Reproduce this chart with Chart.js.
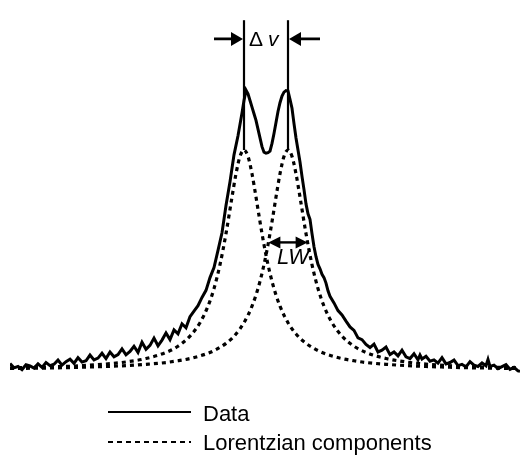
<!DOCTYPE html>
<html>
<head>
<meta charset="utf-8">
<script src="https://cdn.jsdelivr.net/npm/chart.js@4.4.1/dist/chart.umd.min.js"></script>
<style>
  html, body { margin: 0; padding: 0; background: #fff; }
  #wrap { position: relative; width: 525px; height: 460px; font-family: "Liberation Sans", Arial, sans-serif; }
  #wrap canvas { position: absolute; left: 0; top: 0; }
  .swatch { position: absolute; left: 108px; width: 83px; height: 2px; }
  .swatch.solid { background: #000; }
  .swatch.dotted { background: repeating-linear-gradient(90deg, #000 0 5px, transparent 5px 9px); }
  .label { position: absolute; left: 203px; font-size: 22px; line-height: 22px; color: #000; white-space: nowrap; }
</style>
</head>
<body>
<div id="wrap">
  <canvas id="spectrum"></canvas>
</div>
<script>
// frequency offset (arb. units), measured trace
const dataX = [
  -128,-126,-124,-122,-120,-118,-116,-114,-112,-110,-108,-106,-104,-102,-100,-98,-96,-94,-92,-90,-88,-86,-84,-82,-80,-78,-76,-74,-72,-70,-68,-66,-64,-62,-60,-58,-56,-54,-52,-50,-48,-46,-44,-42,-40,
  -38,-36,-34,-32,-30,-28,-26,-24,-22,-20,-18,-16,-14,-12,
  -11,-10,-9,-8,-7,-6,-5,-4,-3,-2,-1,0,1,2,3,4,5,6,7,8,9,10,11,12,13,14,15,16,
  17,18,19,20,21,22,23,24,25,26,27,28,29,30,31,32,
  34,36,38,40,42,44,46,48,50,52,54,56,58,60,62,64,66,68,70,72,74,76,
  77,78,
  80,82,84,86,88,90,92,94,96,98,100,102,104,106,108,110,
  111,112,
  114,116,118,120,122,124,126,
  127
];
const dataY = [
  3.0,1.0,1.6,0.2,2.4,1.9,0.9,2.8,1.2,3.4,2.0,2.6,4.5,2.2,3.8,4.9,3.0,5.6,3.6,4.2,6.8,4.6,5.4,7.6,5.2,8.2,6.0,7.0,9.6,6.9,8.4,10.8,8.0,12.6,9.4,11.2,14.5,11.0,13.6,16.8,13.8,18.2,16.4,21.0,19.2,
  24.2,26.8,29.2,33.0,36.2,42.0,46.6,54.4,62.4,74.8,85.6,97.8,106.5,116.8,
  122.5,127.2,125.5,122.5,119.5,116.5,113.5,109.5,105.5,101.5,99.0,98.6,98.8,99.5,103.0,107.5,112.5,117.5,121.5,124.5,126.3,127.0,126.8,123.0,119.0,112.0,105.5,100.0,
  94.5,88.0,82.0,75.5,71.0,68.5,62.0,56.0,51.5,48.0,46.0,43.5,42.0,39.5,36.0,33.5,
  30.5,27.0,25.0,22.2,19.6,18.0,14.6,13.8,11.6,10.2,11.8,8.2,9.0,10.4,7.0,8.2,6.4,9.0,6.0,5.2,7.4,4.6,
  6.8,5.0,
  6.2,4.0,4.6,3.1,5.6,2.8,3.4,4.5,2.0,2.6,1.4,3.8,2.2,1.6,3.2,1.9,
  4.8,1.6,
  2.2,0.6,1.5,2.4,0.3,1.2,-0.4,
  -0.6
];

// fitted Lorentzian components
const lorentzX = [-128,-115,-100,-90,-80,-70,-60,-50,-44,-38,-33,-29,-26,-23,-20,-17,-15,-13,-11,-9,-7,-5,-3,-1,
                  1,3,5,7,9,11,13,15,17,20,23,26,29,33,38,44,50,60,70,80,90,100,115,128];
const lorentzLeft = [0.96,1.21,1.64,2.07,2.70,3.66,5.22,8.0,10.8,15.4,21.5,29.0,37.0,47.9,62.0,78.6,89.2,97.1,100,97.1,89.2,78.6,67.4,56.9,
                     47.9,40.3,34.1,29.0,24.9,21.5,18.7,16.4,14.4,12.1,10.3,8.8,7.6,6.4,5.2,4.2,3.4,2.6,2.0,1.6,1.3,1.06,0.83,0.68];
const lorentzRight = [0.68,0.83,1.06,1.3,1.6,2.0,2.6,3.4,4.2,5.2,6.4,7.6,8.8,10.3,12.1,14.4,16.4,18.7,21.5,24.9,29.0,34.1,40.3,47.9,
                      56.9,67.4,78.6,89.2,97.1,100,97.1,89.2,78.6,62.0,47.9,37.0,29.0,21.5,15.4,10.8,8.0,5.22,3.66,2.70,2.07,1.64,1.21,0.96];

// annotation values
const peakCentres = [-11, 11];
const lorentzPeak = 100;
const markerTop = 159;
const splitLevel = 150.5;
const lwLevel = 58;
const lwFrom = 1.2, lwTo = 20.8;

const legendLabels = ['Data', 'Lorentzian components'];

function toPoints(xs, ys) {
  return xs.map((x, i) => ({ x: x, y: ys[i] }));
}

function arrowHead(ctx, tipX, tipY, dir, len, half) {
  ctx.beginPath();
  ctx.moveTo(tipX, tipY);
  ctx.lineTo(tipX - dir * len, tipY - half);
  ctx.lineTo(tipX - dir * len, tipY + half);
  ctx.closePath();
  ctx.fill();
}

const annotations = {
  id: 'annotations',
  afterDatasetsDraw(chart) {
    const ctx = chart.ctx;
    const xs = chart.scales.x, ys = chart.scales.y;
    ctx.save();
    ctx.strokeStyle = '#000';
    ctx.fillStyle = '#000';
    ctx.lineWidth = 2.2;

    // vertical markers at the component centres
    const top = ys.getPixelForValue(markerTop);
    const bottom = ys.getPixelForValue(lorentzPeak);
    peakCentres.forEach(c => {
      const px = Math.round(xs.getPixelForValue(c));
      ctx.beginPath();
      ctx.moveTo(px, top);
      ctx.lineTo(px, bottom);
      ctx.stroke();
    });

    // splitting arrows
    ctx.lineWidth = 2.6;
    const ay = ys.getPixelForValue(splitLevel);
    const lx = Math.round(xs.getPixelForValue(peakCentres[0]));
    const rx = Math.round(xs.getPixelForValue(peakCentres[1]));
    ctx.beginPath();
    ctx.moveTo(lx - 30, ay);
    ctx.lineTo(lx - 8, ay);
    ctx.moveTo(rx + 32, ay);
    ctx.lineTo(rx + 8, ay);
    ctx.stroke();
    arrowHead(ctx, lx - 1, ay, 1, 12, 7);
    arrowHead(ctx, rx + 1, ay, -1, 12, 7);

    // Δv label
    const cx = xs.getPixelForValue(0);
    ctx.textBaseline = 'middle';
    ctx.font = '21px "Liberation Sans", Arial, sans-serif';
    ctx.textAlign = 'right';
    ctx.fillText('\u0394', cx - 3, ay + 1);
    ctx.font = 'italic 21px "Liberation Sans", Arial, sans-serif';
    ctx.textAlign = 'left';
    ctx.fillText('v', cx + 2, ay + 1);

    // linewidth arrow
    ctx.lineWidth = 2.4;
    const wy = ys.getPixelForValue(lwLevel);
    const w1 = xs.getPixelForValue(lwFrom), w2 = xs.getPixelForValue(lwTo);
    ctx.beginPath();
    ctx.moveTo(w1 + 8, wy);
    ctx.lineTo(w2 - 8, wy);
    ctx.stroke();
    arrowHead(ctx, w1, wy, -1, 12, 6);
    arrowHead(ctx, w2, wy, 1, 12, 6);

    ctx.font = 'italic 22px "Liberation Sans", Arial, sans-serif';
    ctx.textAlign = 'center';
    ctx.textBaseline = 'alphabetic';
    ctx.fillText('LW', xs.getPixelForValue(13.5), wy + 22);
    ctx.restore();
  }
};

const chart = new Chart(document.getElementById('spectrum').getContext('2d'), {
  type: 'line',
  data: {
    datasets: [{
      label: legendLabels[0],
      data: toPoints(dataX, dataY),
      borderColor: '#000',
      borderWidth: 3,
      pointRadius: 0,
      tension: 0,
      fill: false
    }, {
      label: legendLabels[1],
      data: toPoints(lorentzX, lorentzLeft),
      borderColor: '#000',
      borderWidth: 3.2,
      borderDash: [4, 4],
      pointRadius: 0,
      cubicInterpolationMode: 'monotone',
      fill: false
    }, {
      label: legendLabels[1],
      data: toPoints(lorentzX, lorentzRight),
      borderColor: '#000',
      borderWidth: 3.2,
      borderDash: [4, 4],
      pointRadius: 0,
      cubicInterpolationMode: 'monotone',
      fill: false
    }]
  },
  options: {
    responsive: true,
    maintainAspectRatio: false,
    animation: false,
    layout: { padding: { left: 10, right: 5, top: 18, bottom: 81.2 } },
    scales: {
      x: { type: 'linear', min: -128, max: 127, display: false },
      y: { min: -4, max: 160, display: false }
    },
    plugins: {
      legend: { display: false },
      tooltip: { enabled: false }
    }
  },
  plugins: [annotations]
});

// legend below the plot
const wrap = document.getElementById('wrap');
const legendRows = [
  { text: legendLabels[0], cls: 'solid', lineTop: 411, textTop: 403 },
  { text: legendLabels[1], cls: 'dotted', lineTop: 441, textTop: 432 }
];
legendRows.forEach(r => {
  const sw = document.createElement('div');
  sw.className = 'swatch ' + r.cls;
  sw.style.top = r.lineTop + 'px';
  wrap.appendChild(sw);
  const lb = document.createElement('div');
  lb.className = 'label';
  lb.style.top = r.textTop + 'px';
  lb.textContent = r.text;
  wrap.appendChild(lb);
});
</script>
</body>
</html>
